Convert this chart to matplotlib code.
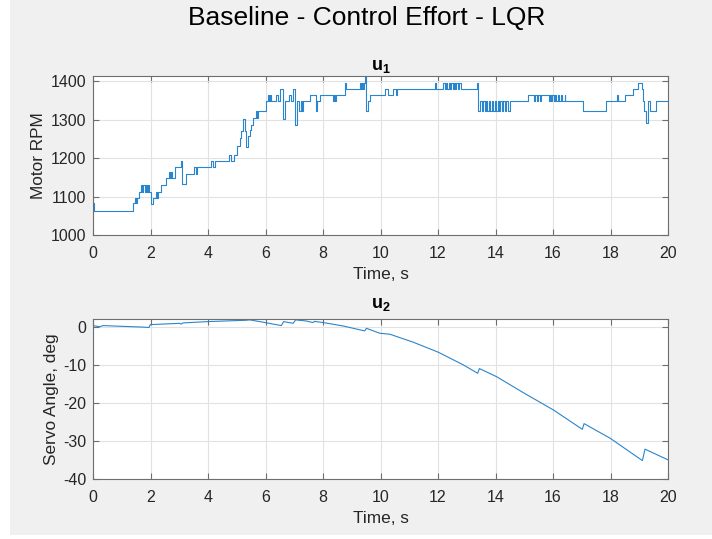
import matplotlib
matplotlib.use('Agg')
import matplotlib.pyplot as plt
from matplotlib.patches import Rectangle

plt.rcParams['font.family'] = ['Liberation Sans', 'DejaVu Sans']
plt.rcParams['mathtext.fontset'] = 'custom'
plt.rcParams['mathtext.bf'] = 'Liberation Sans:bold'
plt.rcParams['mathtext.rm'] = 'Liberation Sans'
plt.rcParams['axes.unicode_minus'] = False

# u1 : motor rpm, step signal (time, value)
u1_t = [0.0, 0.03, 1.39, 1.47, 1.50, 1.52, 1.60, 1.68, 1.72, 1.75, 1.80, 1.83, 1.88, 1.90, 1.95,
        2.00, 2.09, 2.20, 2.23, 2.25, 2.37, 2.55, 2.65, 2.68, 2.72, 2.75, 2.85, 3.05, 3.10, 3.25,
        3.51, 3.57, 3.60, 4.12, 4.17, 4.25, 4.73, 4.79, 4.90, 5.00, 5.10, 5.16, 5.22, 5.28, 5.31,
        5.39, 5.45, 5.51, 5.57, 5.68, 5.70, 5.75, 6.00, 6.10, 6.13, 6.17, 6.20, 6.36, 6.42, 6.50,
        6.60, 6.67, 6.80, 6.88, 6.95, 7.03, 7.10, 7.18, 7.22, 7.27, 7.30, 7.54, 7.74, 7.80, 7.88,
        8.35, 8.38, 8.43, 8.46, 8.75, 8.81, 9.28, 9.33, 9.36, 9.40, 9.42, 9.45, 9.51, 9.56, 9.62,
        10.15, 10.27, 10.45, 10.55, 10.58, 11.90, 11.93, 12.19, 12.24, 12.28, 12.33, 12.37, 12.42,
        12.46, 12.51, 12.55, 12.60, 12.64, 12.69, 12.73, 12.80, 13.35, 13.40, 13.47, 13.52, 13.57,
        13.62, 13.67, 13.72, 13.77, 13.82, 13.87, 13.92, 13.97, 14.02, 14.07, 14.12, 14.17, 14.22,
        14.27, 14.32, 14.37, 14.42, 14.50, 15.14, 15.35, 15.38, 15.45, 15.48, 15.55, 15.58, 15.85,
        15.88, 15.92, 15.98, 16.02, 16.08, 16.12, 16.18, 16.22, 16.28, 16.32, 16.40, 16.43, 16.47,
        17.05, 17.85, 18.24, 18.27, 18.50, 18.79, 18.97, 19.08, 19.12, 19.16, 19.24, 19.30, 19.38,
        19.58, 20.0]
u1_v = [1083, 1063, 1083, 1096, 1083, 1096, 1113, 1130, 1113, 1130, 1113, 1130, 1113, 1130, 1113,
        1080, 1096, 1113, 1096, 1113, 1130, 1147, 1163, 1147, 1163, 1147, 1178, 1193, 1132, 1158,
        1176, 1158, 1176, 1193, 1176, 1193, 1209, 1193, 1209, 1232, 1252, 1270, 1302, 1270, 1229,
        1257, 1274, 1287, 1304, 1322, 1304, 1322, 1348, 1365, 1348, 1365, 1348, 1365, 1348, 1380,
        1302, 1348, 1365, 1348, 1380, 1287, 1348, 1322, 1348, 1322, 1348, 1365, 1322, 1348, 1365,
        1348, 1365, 1348, 1365, 1396, 1380, 1396, 1380, 1396, 1380, 1396, 1413, 1322, 1348, 1365,
        1380, 1365, 1380, 1365, 1380, 1396, 1380, 1396, 1380, 1396, 1380, 1396, 1380,
        1396, 1380, 1396, 1380, 1396, 1380, 1396, 1380, 1396, 1322, 1348, 1322, 1348,
        1322, 1348, 1322, 1348, 1322, 1348, 1322, 1348, 1322, 1348, 1322, 1348, 1322,
        1348, 1322, 1348, 1322, 1348, 1365, 1348, 1365, 1348, 1365, 1348, 1365, 1348,
        1365, 1348, 1365, 1348, 1365, 1348, 1365, 1348, 1365, 1348, 1365, 1348, 1348,
        1322, 1348, 1365, 1348, 1365, 1380, 1396, 1380, 1348, 1322, 1290, 1348, 1322,
        1348, 1348]

# u2 : servo angle, deg
u2_t = [0.0, 0.23, 0.35, 1.74, 1.95, 1.99, 3.01, 3.07, 3.13, 4.0, 5.33, 5.45, 5.91, 6.55, 6.63,
        6.96, 7.05, 7.42, 7.65, 7.71, 8.0, 8.70, 9.45, 9.51, 9.97, 10.33, 11.14, 12.01, 12.88,
        13.38, 13.44, 14.04, 14.97, 16.01, 17.02, 17.08, 17.98, 19.11, 19.20, 20.0]
u2_v = [0.3, 0.0, 0.3, -0.1, -0.2, 0.55, 0.9, 0.7, 1.0, 1.35, 1.7, 1.8, 1.2, 0.3, 1.35,
        0.9, 1.8, 1.5, 1.1, 1.4, 1.1, 0.2, -1.1, -0.4, -1.7, -1.97, -4.06, -6.68, -10.0,
        -12.2, -10.97, -13.1, -17.3, -21.8, -26.9, -25.4, -29.2, -35.1, -32.1, -34.9]

xticks = [0, 2, 4, 6, 8, 10, 12, 14, 16, 18, 20]
u1_ticks = [1000, 1100, 1200, 1300, 1400]
u2_ticks = [-40, -30, -20, -10, 0]

line_color = '#2a85cc'
text_color = '#262626'

fig = plt.figure(figsize=(7.12, 5.39), dpi=100, facecolor='white')
fig.patches.append(Rectangle((10 / 712, 4 / 539), 702 / 712, 535 / 539,
                             transform=fig.transFigure, facecolor='#f0f0f0',
                             edgecolor='none', zorder=-10))

ax1 = fig.add_axes([93 / 712, 1 - 235 / 539, 575 / 712, 159.3 / 539])
ax2 = fig.add_axes([93 / 712, 1 - 479.3 / 539, 575 / 712, 160 / 539])


def style_axes(ax):
    ax.set_facecolor('white')
    for s in ax.spines.values():
        s.set_color('#6e6e6e')
        s.set_linewidth(0.8)
    ax.grid(True, color='#e2e2e2', linewidth=0.8)
    ax.set_axisbelow(True)
    ax.tick_params(direction='in', top=True, right=True, length=4, width=0.8,
                   color='#6e6e6e', labelcolor=text_color, labelsize=11.5, pad=5)
    ax.tick_params(axis='x', pad=8)
    ax.set_xlim(0, 20)
    ax.set_xticks(xticks)
    ax.set_xlabel('Time, s', fontsize=12.4, color=text_color, labelpad=4)


ax1.plot(u1_t, u1_v, drawstyle='steps-post', color=line_color, linewidth=0.8)
style_axes(ax1)
ax1.set_ylim(1000, 1414)
ax1.set_yticks(u1_ticks)
ax1.set_ylabel('Motor RPM', fontsize=12.4, color=text_color, labelpad=3)
ax1.set_title(r'$\mathbf{u_1}$', fontsize=13, color='black', pad=4)

ax2.plot(u2_t, u2_v, color=line_color, linewidth=0.8)
style_axes(ax2)
ax2.set_ylim(-40, 1.95)
ax2.set_yticks(u2_ticks)
ax2.set_ylabel('Servo Angle, deg', fontsize=12.4, color=text_color, labelpad=3)
ax2.set_title(r'$\mathbf{u_2}$', fontsize=13, color='black', pad=8)

fig.text(367 / 712, 1 - 18 / 539, 'Baseline - Control Effort - LQR', fontsize=19,
         ha='center', va='center', color='black')

fig.savefig('out.png', dpi=100, facecolor=fig.get_facecolor())
